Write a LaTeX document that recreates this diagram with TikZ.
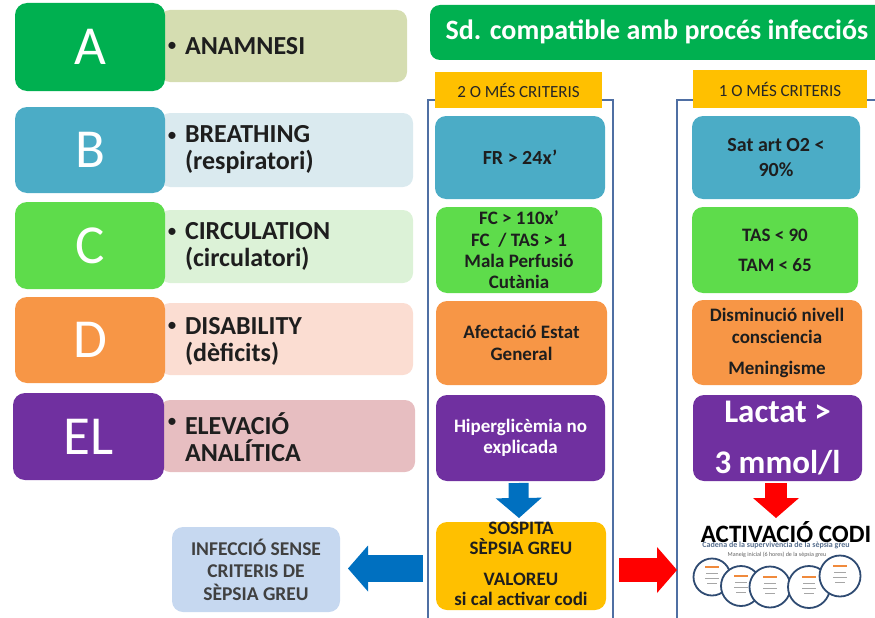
\documentclass[tikz,border=0pt]{standalone}
\usepackage{fontspec}
\setmainfont{Carlito}
\usetikzlibrary{arrows.meta,calc}

\definecolor{hdrgreen}{HTML}{00B050}
\definecolor{tealc}{HTML}{4BACC6}
\definecolor{limec}{HTML}{5EDC4B}
\definecolor{orangec}{HTML}{F79646}
\definecolor{purplec}{HTML}{7030A0}
\definecolor{amber}{HTML}{FFC000}
\definecolor{barA}{HTML}{D5DDB1}
\definecolor{barB}{HTML}{DAEAEF}
\definecolor{barC}{HTML}{DCF2D7}
\definecolor{barD}{HTML}{FBDDD2}
\definecolor{barE}{HTML}{E7BEC1}
\definecolor{infoc}{HTML}{C6D8F0}
\definecolor{framecol}{HTML}{4F6FA3}
\definecolor{arrowblue}{HTML}{0070C0}
\definecolor{arrowred}{HTML}{FF0000}
\definecolor{ink}{HTML}{1E1E1E}
\definecolor{tagink}{HTML}{262626}
\definecolor{navyc}{HTML}{2F4B72}
\definecolor{smallorange}{HTML}{F08A3C}

\begin{document}
\begin{tikzpicture}[x=1pt,y=-1pt,
  every node/.style={inner sep=0pt, outer sep=0pt},
  letter/.style={fill=#1, rounded corners=12pt, minimum width=150pt,
    minimum height=87pt, text=white, font=\fontsize{55}{60}\selectfont},
  bar/.style={fill=#1, rounded corners=10pt, minimum height=73pt},
  bulletmark/.style={text=ink, font=\fontsize{20}{22}\selectfont},
  bullettext/.style={anchor=west, align=left, text=ink,
    font=\bfseries\fontsize{26}{27}\selectfont},
  crit/.style={fill=#1, rounded corners=11pt, align=center, text=ink,
    font=\bfseries\fontsize{19}{21.3}\selectfont},
  tag/.style={fill=amber, minimum height=37pt, text=tagink,
    font=\fontsize{17}{20}\selectfont},
  colframe/.style={draw=framecol, line width=2.5pt},
  fatblue/.style={draw=arrowblue, line width=#1,
    -{Triangle[width=46pt,length=20pt,line width=0pt,fill=arrowblue]}},
  fatred/.style={draw=arrowred, line width=#1,
    -{Triangle[width=46pt,length=20pt,line width=0pt,fill=arrowred]}},
  circ/.style={circle, draw=navyc, line width=1.8pt, fill=white, minimum size=#1}
]
\useasboundingbox (0,0) rectangle (875,618);
\clip (0,0) rectangle (875,618);

% ---------- left column: ABCDE ----------
\node[bar=barA, minimum width=247pt, minimum height=72pt] (barA) at (283.5,46) {};
\node[bar=barB, minimum width=253pt, minimum height=74pt] (barB) at (286.5,150) {};
\node[bar=barC, minimum width=253pt] (barC) at (286.5,246.5) {};
\node[bar=barD, minimum width=253pt, minimum height=72pt] (barD) at (286.5,339) {};
\node[bar=barE, minimum width=255pt, minimum height=72pt] (barE) at (287.5,436) {};

\node[letter=hdrgreen, minimum height=88pt] (LA) at (90,47) {A};
\node[letter=tealc, minimum height=86pt] (LB) at (90,150) {B};
\node[letter=limec] (LC) at (90,245.5) {C};
\node[letter=orangec, minimum height=86pt] (LD) at (90,340) {D};
\node[letter=purplec, minimum width=151pt] (LE) at (88.5,436.5) {EL};

\node[bulletmark] (dA) at (172,46.5) {\textbullet};
\node[bullettext] (tA) at (185,46.5) {ANAMNESI};
\node[bulletmark] (dB) at (172,136.5) {\textbullet};
\node[bullettext] (tB) at (185,150) {BREATHING\\(respiratori)};
\node[bulletmark] (dC) at (172,233) {\textbullet};
\node[bullettext] (tC) at (185,246.5) {CIRCULATION\\(circulatori)};
\node[bulletmark] (dD) at (172,327) {\textbullet};
\node[bullettext] (tD) at (185,341) {DISABILITY\\(dèficits)};
\node[bulletmark] (dE) at (172,423) {\textbullet};
\node[bullettext] (tE) at (185,437) {ELEVACIÓ\\ANALÍTICA};

% ---------- header ----------
\node[fill=hdrgreen, rounded corners=10pt, minimum width=460pt, minimum height=55pt] (hdr) at (660,32.5) {};
\node[text=white, font=\bfseries\fontsize{28}{32}\selectfont] (hdrtxt) at (657,32) {Sd. compatible amb procés infecciós};

% ---------- criteria frames ----------
\draw[colframe] (428,100) rectangle (613,680);
\draw[colframe] (677,100) rectangle (920,680);
\node[tag, minimum width=167pt, minimum height=36pt] (tag2) at (518.5,90) {2 O MÉS CRITERIS};
\node[tag, minimum width=174pt, minimum height=38pt] (tag1) at (780,89) {1 O MÉS CRITERIS};

% column: 2 or more criteria
\node[crit=tealc, minimum width=170pt, minimum height=83pt, font=\bfseries\fontsize{20}{22}\selectfont] (fr) at (520,157.5) {FR > 24x’};
\node[crit=limec, minimum width=166pt, minimum height=86pt] (fc) at (519,250) {FC > 110x’\\FC~ / TAS > 1\\Mala Perfusió\\Cutània};
\node[crit=orangec, minimum width=171pt, minimum height=84pt] (aeg) at (521.5,343) {Afectació Estat\\General};
\node[crit=purplec, minimum width=169pt, minimum height=86pt, text=white] (hip) at (520.5,438) {Hiperglicèmia no\\explicada};
\node[crit=amber, minimum width=170pt, minimum height=88pt] (sosp) at (521,566) {};
\node[align=center, text=ink, font=\bfseries\fontsize{19}{20}\selectfont] (sosptxt) at (521,564)
  {SOSPITA\\SÈPSIA GREU\\[11pt]VALOREU\\si cal activar codi};

% column: 1 or more criteria
\node[crit=tealc, minimum width=168pt, minimum height=83pt, font=\bfseries\fontsize{20}{25}\selectfont] (sat) at (776,157.5) {Sat art O2 <\\90\%};
\node[crit=limec, minimum width=166pt, minimum height=86pt, font=\bfseries\fontsize{19}{30}\selectfont] (tas) at (775,250) {TAS < 90\\TAM < 65};
\node[crit=orangec, minimum width=170pt, minimum height=85pt, font=\bfseries\fontsize{19}{22}\selectfont] (dism) at (777,342.5) {Disminució nivell\\consciencia\\[9pt]Meningisme};
\node[crit=purplec, minimum width=169pt, minimum height=86pt, text=white, font=\bfseries\fontsize{33}{51}\selectfont] (lact) at (777.5,438) {Lactat >\\3 mmol/l};

% ---------- outcome on the left ----------
\node[fill=infoc, rounded corners=11pt, minimum width=168pt, minimum height=85pt, align=center,
  text=ink!85, font=\bfseries\fontsize{19.5}{22.5}\selectfont] (inf) at (256,569.5)
  {INFECCIÓ SENSE\\CRITERIS DE\\SÈPSIA GREU};

% ---------- code activation with survival chain ----------
\node[text=navyc!80, font=\bfseries\fontsize{8}{9}\selectfont] (chain) at (776,545) {Cadena de la supervivència de la sèpsia greu};
\node[text=ink!70, font=\fontsize{6}{7}\selectfont] (maneig) at (777,555) {Maneig inicial (6 hores) de la sèpsia greu};
\node[circ=37pt] (k1) at (712,577) {};
\node[circ=40pt] (k2) at (741,586) {};
\node[circ=41pt] (k3) at (770,587) {};
\node[circ=42pt] (k4) at (809,587) {};
\node[circ=41pt] (k5) at (840,576) {};
\foreach \k in {k1,k2,k3,k4,k5} {
  \draw[smallorange, line width=1.2pt] ($(\k)+(-7,-10)$) -- ++(14,0);
  \draw[gray!70, line width=0.9pt] ($(\k)+(-6,-4)$) -- ++(12,0)
    ($(\k)+(-7,1)$) -- ++(14,0) ($(\k)+(-5,6)$) -- ++(10,0);
}
\node[text=black, font=\bfseries\fontsize{25}{28}\selectfont] (codi) at (786,532) {ACTIVACIÓ CODI};

% ---------- block arrows ----------
\draw[fatblue=20pt] ($(hip.south)+(-2,2)$) -- ($(sosp.north)+(-2,-4)$);
\draw[fatred=22pt] ($(lact.south)+(-1.5,2)$) -- ($(lact.south)+(-1.5,37)$);
\draw[fatred=24pt] ($(sosp.east)+(13,4)$) -- ($(sosp.east)+(71,4)$);
\draw[fatblue=27pt] ($(inf.east)+(83,-1)$) -- ($(inf.east)+(8,-1)$);
\end{tikzpicture}
\end{document}
